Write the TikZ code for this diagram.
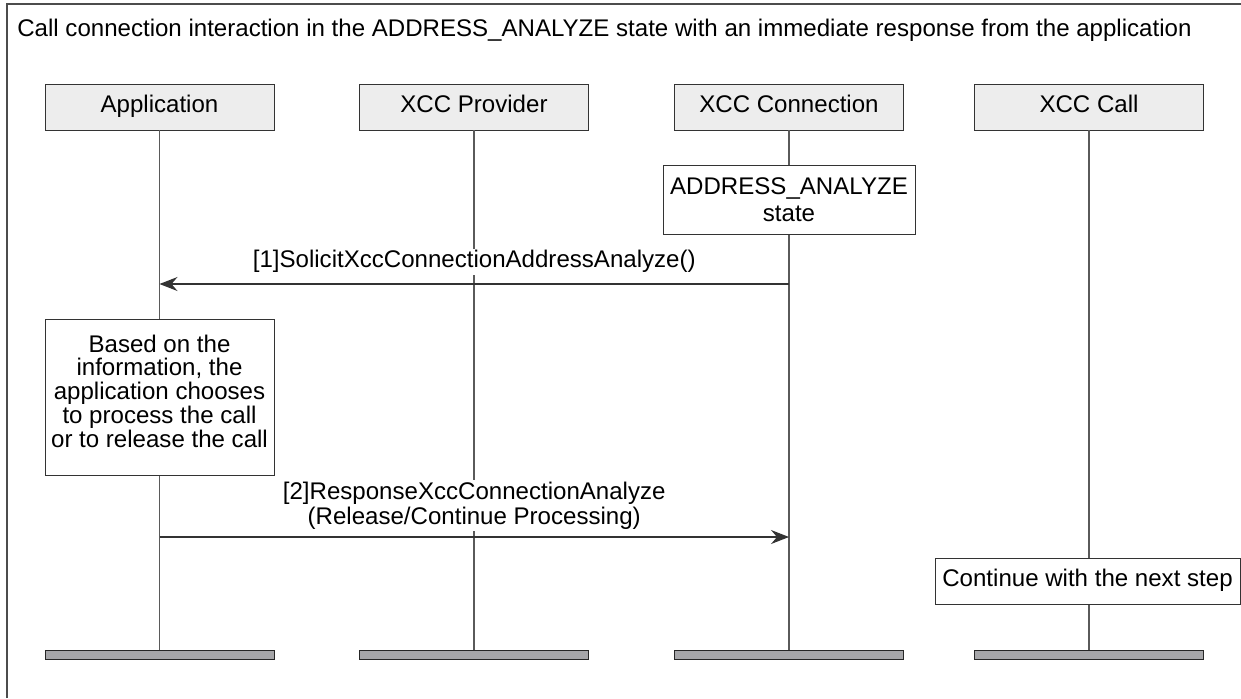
\documentclass[tikz,border=0pt]{standalone}
\usepackage{fontspec}
\setmainfont{Liberation Sans}
\usetikzlibrary{arrows.meta}
\definecolor{headgray}{HTML}{EDEDED}
\definecolor{bargray}{HTML}{A6A6A9}
\definecolor{lifegray}{HTML}{5A5A5A}
\tikzset{
  head/.style={draw=black!80, fill=headgray, minimum width=4.58cm, minimum height=0.92cm, inner sep=0pt, text height=0.72em, text depth=0.05em},
  bar/.style={draw=black!85, fill=bargray, minimum width=4.58cm, minimum height=0.18cm, inner sep=0pt},
  note/.style={draw=black!80, fill=white, align=center, inner sep=0pt},
  life/.style={draw=lifegray, line width=0.6pt},
  msg/.style={draw=black!80, line width=0.6pt, -{Stealth[length=3.6mm,width=2.8mm,inset=1.2mm]}},
  lbl/.style={fill=white, inner sep=1pt, align=center},
}

\begin{document}
\begin{tikzpicture}[x=0.02cm, y=-0.02cm, font=\fontsize{13.7}{15}\selectfont]
		%%%%% START %%%%%
		\useasboundingbox (0,0) rectangle (1241,698);
		
		% frame and title
		\draw[black!70, line width=0.8pt] (7,698) -- (7,4) -- (1241,4);
		\node[anchor=west, inner sep=0pt] (title) at (17,30) {Call connection interaction in the ADDRESS\_ANALYZE state with an immediate response from the application};
		
		% heads
		\node[head] (hApp)  at (159.5,107) {Application};
		\node[head] (hProv) at (474,107)   {XCC Provider};
		\node[head] (hConn) at (789,107)   {XCC Connection};
		\node[head] (hCall) at (1089,107)  {XCC Call};
		
		% bars
		\node[bar] (bApp)  at (159.5,654.5) {};
		\node[bar] (bProv) at (474,654.5)   {};
		\node[bar] (bConn) at (789,654.5)   {};
		\node[bar] (bCall) at (1089,654.5)  {};
		
		% lifelines
		\draw[life] (hApp.south)  -- (bApp.north);
		\draw[life] (hProv.south) -- (bProv.north);
		\draw[life] (hConn.south) -- (bConn.north);
		\draw[life] (hCall.south) -- (bCall.north);
		
		% notes
		\node[note, minimum width=5.04cm, minimum height=1.38cm, font=\fontsize{13.7}{15.2}\selectfont] (sAddr) at (789,199.5) {ADDRESS\_ANALYZE\\state};
		\node[note, minimum width=4.58cm, minimum height=3.12cm] (sApp) at (159.5,397) {};
		\node[align=center, inner sep=0pt, font=\fontsize{13.7}{13.5}\selectfont] (tApp) at (159.5,391) {Based on the\\information, the\\application chooses\\to process the call\\or to release the call};
		\node[note, minimum width=6.1cm, minimum height=0.92cm, text height=0.72em, text depth=0.05em] (sCall) at (1087.5,581) {Continue with the next step};
		
		% messages
		\coordinate (m1) at (0,284);
		\coordinate (m2) at (0,537);
		\draw[msg] (hConn |- m1) -- node[lbl, above=5pt] (l1) {[1]SolicitXccConnectionAddressAnalyze()} (hApp |- m1);
		\draw[msg] (hApp |- m2) -- node[lbl, above=3pt, font=\fontsize{13.7}{14.4}\selectfont] (l2) {[2]ResponseXccConnectionAnalyze\\(Release/Continue Processing)} (hConn |- m2);
		
		%%%%% END %%%%%
	\end{tikzpicture}
\end{document}
